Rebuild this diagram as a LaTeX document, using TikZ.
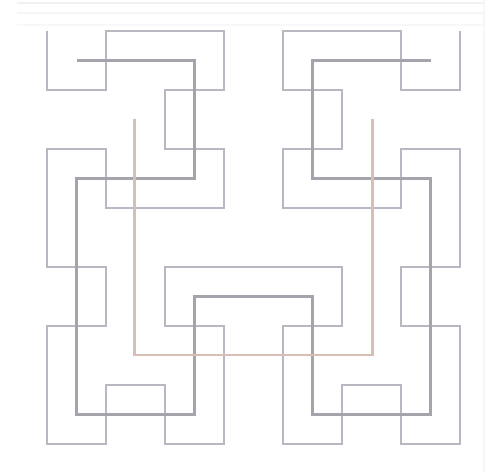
\documentclass[tikz,border=0pt]{standalone}
\usepackage{xcolor}
\definecolor{hthree}{HTML}{B8B8C2}
\definecolor{htwo}{HTML}{A4A4AC}
\definecolor{hone}{HTML}{D8BEB4}
\definecolor{faint}{HTML}{F1F1F1}
\begin{document}
\begin{tikzpicture}[x=1pt,y=-1pt,
  curvethree/.style={draw=hthree,line width=2.4pt,line join=miter},
  curvetwo/.style={draw=htwo,line width=2.6pt,line join=miter},
  curveone/.style={draw=hone,line width=2.6pt,line join=miter},
  faintline/.style={draw=faint,line width=2pt}]
\useasboundingbox (0,0) rectangle (488,473);
\fill[white] (0,0) rectangle (488,473);
% faint background bands
\draw[faintline] (17,3) -- (484,3);
\draw[faintline,draw=faint!70] (17,13) -- (484,13);
\draw[faintline,draw=faint!50] (17,25) -- (484,25);
\draw[faintline,draw=faint!60] (484,0) -- (484,473);
% order 3
\begin{scope}[xshift=47pt,yshift=-31pt,x=59pt,y=-59pt]
\draw[curvethree] (0,0)--(0,1)--(1,1)--(1,0)--(2,0)--(3,0)--(3,1)--(2,1)--(2,2)--(3,2)--(3,3)--(2,3)--(1,3)--(1,2)--(0,2)--(0,3)
 --(0,4)--(1,4)--(1,5)--(0,5)--(0,6)--(0,7)--(1,7)--(1,6)--(2,6)--(2,7)--(3,7)--(3,6)--(3,5)--(2,5)--(2,4)--(3,4)
 --(4,4)--(5,4)--(5,5)--(4,5)--(4,6)--(4,7)--(5,7)--(5,6)--(6,6)--(6,7)--(7,7)--(7,6)--(7,5)--(6,5)--(6,4)--(7,4)
 --(7,3)--(7,2)--(6,2)--(6,3)--(5,3)--(4,3)--(4,2)--(5,2)--(5,1)--(4,1)--(4,0)--(5,0)--(6,0)--(6,1)--(7,1)--(7,0);
\end{scope}
% order 2
\begin{scope}[xshift=76.5pt,yshift=-60.5pt,x=118pt,y=-118pt]
\draw[curvetwo] (0,0)--(1,0)--(1,1)--(0,1)--(0,2)--(0,3)--(1,3)--(1,2)--(2,2)--(2,3)--(3,3)--(3,2)--(3,1)--(2,1)--(2,0)--(3,0);
\end{scope}
% order 1
\begin{scope}[xshift=134.5pt,yshift=-119pt,x=238pt,y=-236pt]
\draw[curveone] (0,0)--(0,1)--(1,1)--(1,0);
\end{scope}
\end{tikzpicture}
\end{document}
